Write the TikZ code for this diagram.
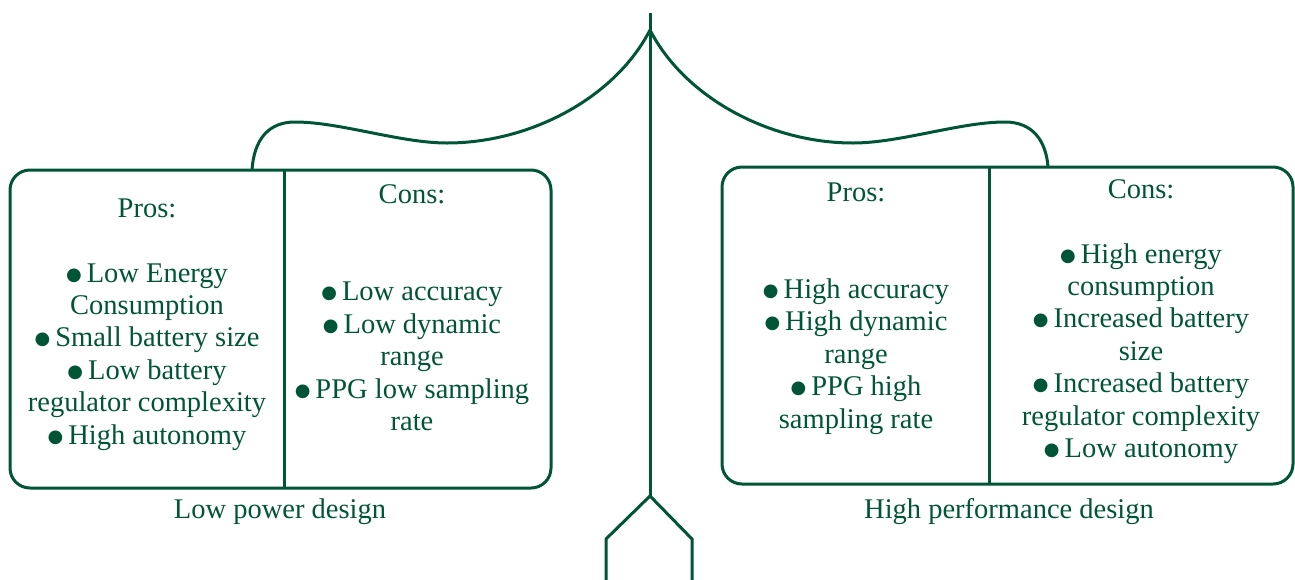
\documentclass[tikz,border=0pt]{standalone}
\usepackage{fontspec}
\setmainfont{Liberation Serif}
\newfontfamily\markfont{DejaVu Sans}
\definecolor{leaf}{RGB}{0,85,55}
\newcommand{\firstline}{\rule{0pt}{20pt}}
% round list marker followed by a small gap
\newcommand{\dotmark}{\raisebox{2pt}{\markfont\fontsize{18}{18}\selectfont ●}\hspace{5pt}}
\begin{document}
\begin{tikzpicture}[x=1pt,y=-1pt,
  panel/.style={draw=leaf, line width=3pt, rounded corners=20pt, inner sep=0pt},
  link/.style={draw=leaf, line width=3pt, line join=miter},
  column/.style={text=leaf, align=center, anchor=north, inner sep=0pt,
    font=\fontsize{28.5}{32.4}\selectfont},
  caption/.style={text=leaf, anchor=base, inner sep=0pt,
    font=\fontsize{28.5}{32.4}\selectfont}]
\useasboundingbox (0,0) rectangle (1295,579);

% the two option panels
\node[panel, minimum width=541pt, minimum height=318pt] (low) at (280.5,329) {};
\node[panel, minimum width=571pt, minimum height=317pt] (high) at (1007.5,325.5) {};
\draw[link] (284,170) -- (284,488);
\draw[link] (989,167) -- (989,484);

% balance stem and its foot
\coordinate (top) at (650,13);
\coordinate (apex) at (650,30);
\coordinate (fork) at (650,496);
\coordinate (footL) at (606,539);
\coordinate (footR) at (692,539);
\coordinate (baseL) at (606,585);
\coordinate (baseR) at (692,585);
\draw[link] (top) -- (fork);
\draw[link] (baseL) -- (footL) -- (fork) -- (footR) -- (baseR);

% arms hanging the panels from the apex
\coordinate (lowtie) at (252,170);
\coordinate (hightie) at (1048,167);
\draw[link] (apex) .. controls (615,98) and (530,143) .. (447,143)
  .. controls (400,143) and (340,122) .. (295,122)
  .. controls (268,122) and (254,140) .. (lowtie);
\draw[link] (apex) .. controls (685,98) and (770,143) .. (853,143)
  .. controls (900,143) and (960,122) .. (1005,122)
  .. controls (1032,122) and (1046,140) .. (hightie);

% panel texts
\node[column] (lowpros) at (147,197) {\firstline Pros:\\[32.4pt]
  \dotmark Low Energy\\Consumption\\\dotmark Small battery size\\\dotmark Low battery\\regulator complexity\\\dotmark High autonomy};
\node[column] (lowcons) at (412,183.5) {\firstline Cons:\\[64.8pt]
  \dotmark Low accuracy\\\dotmark Low dynamic\\range\\\dotmark PPG low sampling\\rate};
\node[column] (highpros) at (856,181) {\firstline Pros:\\[64.8pt]
  \dotmark High accuracy\\\dotmark High dynamic\\range\\\dotmark PPG high\\sampling rate};
\node[column] (highcons) at (1141,178) {\firstline Cons:\\[32.4pt]
  \dotmark High energy\\consumption\\\dotmark Increased battery\\size\\\dotmark Increased battery\\regulator complexity\\\dotmark Low autonomy};

% captions
\node[caption] (lowlabel) at (280,518) {Low power design};
\node[caption] (highlabel) at (1009,518) {High performance design};
\end{tikzpicture}
\end{document}
